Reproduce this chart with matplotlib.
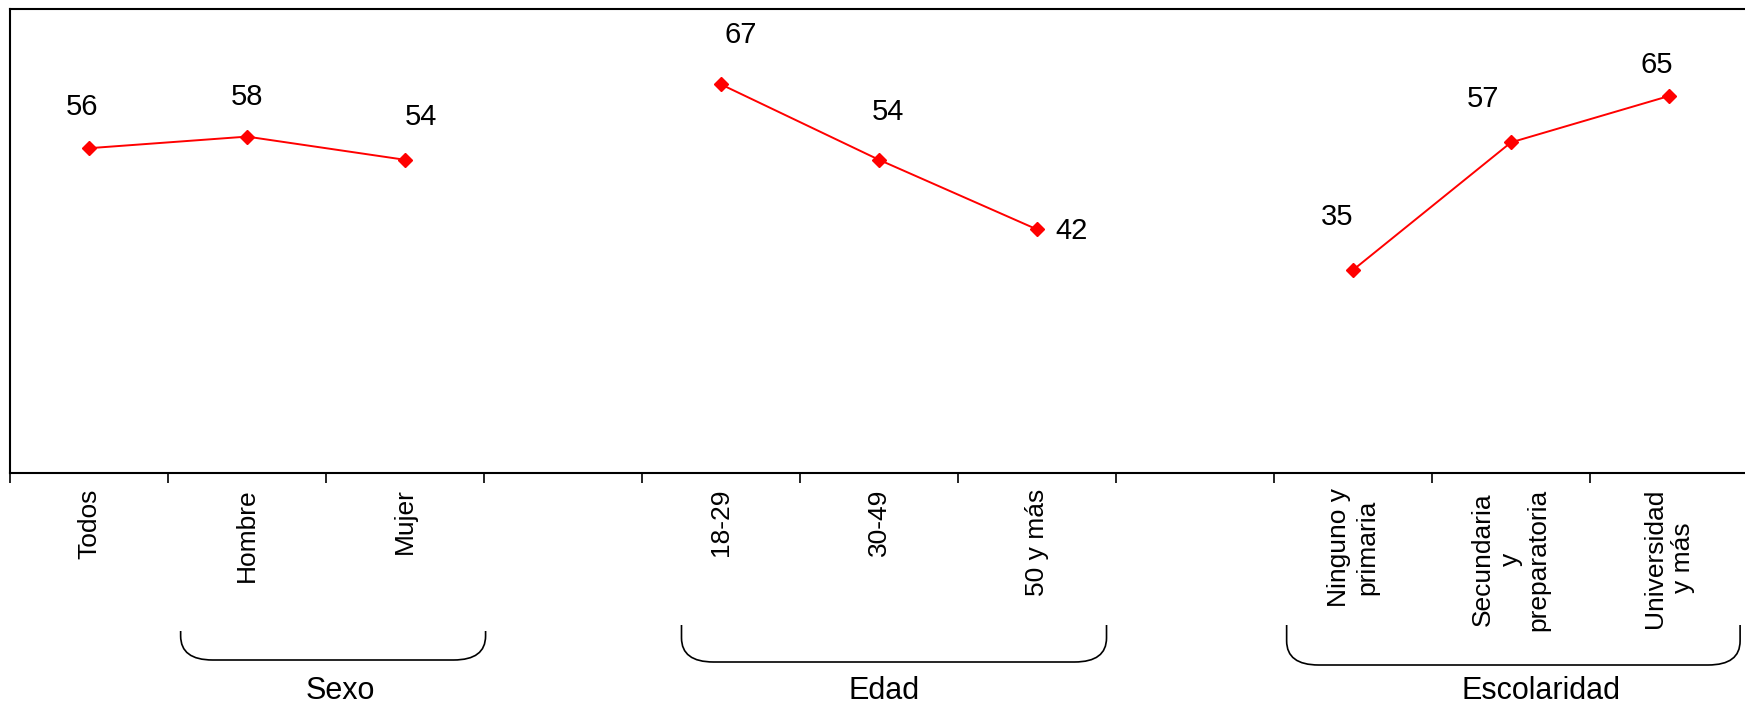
import numpy as np
import matplotlib
matplotlib.use("Agg")
import matplotlib.pyplot as plt
from matplotlib.path import Path
from matplotlib.patches import PathPatch
from matplotlib.transforms import IdentityTransform

plt.rcParams['font.family'] = ['Liberation Sans', 'DejaVu Sans']

# ---- data ----
categories = ["Todos", "Hombre", "Mujer", "",
              "18-29", "30-49", "50 y más", "",
              "Ninguno y\nprimaria", "Secundaria\ny\npreparatoria", "Universidad\ny más"]
sexo_idx = [0, 1, 2]
sexo_vals = [56, 58, 54]
edad_idx = [4, 5, 6]
edad_vals = [67, 54, 42]
esc_idx = [8, 9, 10]
esc_vals = [35, 57, 65]

group_names = ["Sexo", "Edad", "Escolaridad"]
group_spans = [(0.58, 2.51), (3.75, 6.44), (7.58, 10.45)]
group_label_x = [1.59, 5.03, 9.19]
group_bracket_top = [631, 625, 625]
group_bracket_bot = [660, 662, 665]

# label offsets in pixels (dx, dy) for each point
label_offsets = [(-7, 41), (0, 40), (16, 43),
                 (20, 49), (9, 48), (35, -2),
                 (-16, 53), (-28, 43), (-12, 31)]

W, H = 1745, 706
fig = plt.figure(figsize=(W / 100, H / 100), dpi=100)
ax = fig.add_axes([10 / W, (H - 473) / H, (1748 - 10) / W, (473 - 9) / H])

ax.set_xlim(-0.5, len(categories) - 0.5)
ax.set_ylim(0, 80)

red = "#FF0000"
k = 0
for idx, vals in [(sexo_idx, sexo_vals), (edad_idx, edad_vals), (esc_idx, esc_vals)]:
    ax.plot(idx, vals, color=red, lw=1.4, marker="D", ms=7.5, mec=red, mfc=red)
    for x, v in zip(idx, vals):
        dx, dy = label_offsets[k]
        ax.annotate(str(v), (x, v), xytext=(dx, dy), textcoords="offset pixels",
                    ha="center", va="center", fontsize=21, color="black")
        k += 1

# spines
for s in ["left", "top", "bottom"]:
    ax.spines[s].set_linewidth(1.5)
ax.spines["right"].set_visible(False)
ax.set_yticks([])

ax.set_xticks(range(len(categories)))
ax.set_xticklabels(categories, rotation=90, fontsize=19, va="top", ha="center",
                   multialignment="center")
ax.tick_params(axis="x", which="major", length=0, pad=11)
ax.set_xticks(np.arange(-0.5, len(categories) + 0.5, 1), minor=True)
ax.tick_params(axis="x", which="minor", length=7, width=1.2, direction="out")

# brackets
rx, ry = 32, 24
for (a, b), name, lx, yt, yb in zip(group_spans, group_names, group_label_x,
                                    group_bracket_top, group_bracket_bot):
    x0 = ax.transData.transform((a, 0))[0]
    x1 = ax.transData.transform((b, 0))[0]
    ytop = H - yt
    ybot = H - yb
    verts = [(x0, ytop), (x0, ybot + ry), (x0, ybot), (x0 + rx, ybot),
             (x1 - rx, ybot), (x1, ybot), (x1, ybot + ry), (x1, ytop)]
    codes = [Path.MOVETO, Path.LINETO, Path.CURVE3, Path.CURVE3,
             Path.LINETO, Path.CURVE3, Path.CURVE3, Path.LINETO]
    fig.add_artist(PathPatch(Path(verts, codes), transform=IdentityTransform(),
                             fill=False, lw=1.2, ec="black"))
    xl = ax.transData.transform((lx, 0))[0]
    fig.text(xl / W, 15 / H, name, ha="center", va="center", fontsize=22)

fig.savefig("out.png", dpi=100)
